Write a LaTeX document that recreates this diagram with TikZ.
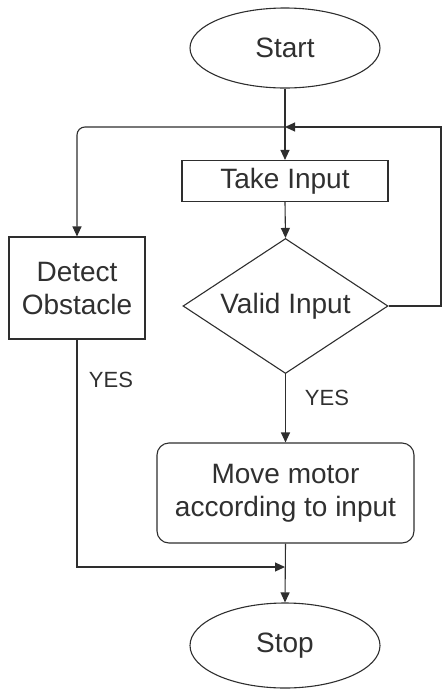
\documentclass[tikz,border=0pt]{standalone}
\usepackage{fontspec}
\setmainfont{Liberation Sans}
\usetikzlibrary{shapes.geometric,arrows.meta}
\definecolor{ln}{HTML}{2E2E2E}
\definecolor{tx}{HTML}{303030}
\begin{document}
\begin{tikzpicture}[x=1pt,y=1pt,
  base/.style={draw=ln,line width=1.1pt,text=tx,font=\fontsize{28}{33}\selectfont,inner sep=0pt,align=center},
  term/.style={base,ellipse,minimum width=190pt,minimum height=80pt},
  proc/.style={base,rectangle},
  dec/.style={base,diamond,aspect=1.52,minimum width=205pt,minimum height=135pt},
  arr/.style={draw=ln,line width=1.1pt,-{Triangle[length=10pt,width=9pt]}},
  lbl/.style={text=tx,font=\fontsize{22}{26}\selectfont,inner sep=0pt}]
\useasboundingbox (0,0) rectangle (443,-689);
\node[term] (start) at (285,-48) {Start};
\node[proc,minimum width=206pt,minimum height=41pt] (take) at (285,-181) {Take Input};
\node[dec] (valid) at (285.5,-306) {Valid Input};
\node[proc,minimum width=136pt,minimum height=102pt] (detect) at (77,-288) {Detect\\Obstacle};
\node[proc,rounded corners=12pt,minimum width=257pt,minimum height=100pt] (move) at (285.5,-493) {Move motor\\according to input};
\node[term,minimum height=85pt] (stop) at (285,-645.5) {Stop};
\coordinate (J) at (285,-127);
\coordinate (jr) at (441,-127);
\coordinate (K) at (285,-567);
\draw[arr] (start.south) -- (take.north);
\draw[arr] (take.south) -- (valid.north);
\draw[arr] (valid.east) -| (jr) -- (J);
\draw[arr,rounded corners=8pt] (J) -| (detect.north);
\node[lbl] (yes2) at (327,-398) {YES};
\node[lbl] (yes1) at (111,-380) {YES};
\draw[arr] (valid.south) -- (move.north);
\draw[arr] (detect.south) |- (K);
\draw[arr] (move.south) -- (stop.north);
\end{tikzpicture}
\end{document}
